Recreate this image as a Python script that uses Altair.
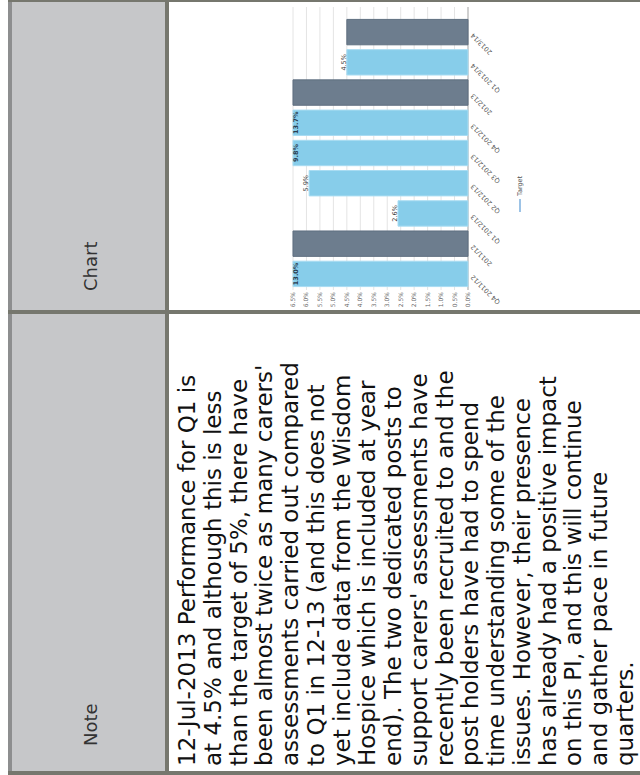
import altair as alt
import pandas as pd

# ---------------- data ----------------
categories = ["2013/14", "Q1 2013/14", "2012/13", "Q4 2012/13", "Q3 2012/13",
              "Q2 2012/13", "Q1 2012/13", "2011/12", "Q4 2011/12"]
values = [4.5, 4.5, 13.7, 13.7, 9.8, 5.9, 2.6, 13.0, 13.0]
kinds = ["Annual", "Quarter", "Annual", "Quarter", "Quarter",
         "Quarter", "Quarter", "Annual", "Quarter"]
value_labels = ["", "4.5%", "", "13.7%", "9.8%", "5.9%", "2.6%", "", "13.0%"]
tick_values = [0.0, 0.5, 1.0, 1.5, 2.0, 2.5, 3.0, 3.5, 4.0, 4.5, 5.0, 5.5, 6.0, 6.5]
tick_labels = ["0.0%", "0.5%", "1.0%", "1.5%", "2.0%", "2.5%", "3.0%", "3.5%",
               "4.0%", "4.5%", "5.0%", "5.5%", "6.0%", "6.5%"]
legend_items = ["Target"]
header_labels = ["Chart", "Note"]
note_lines = [
    "12-Jul-2013 Performance for Q1 is",
    "at 4.5% and although this is less",
    "than the target of 5%, there have",
    "been almost twice as many carers'",
    "assessments carried out compared",
    "to Q1 in 12-13 (and this does not",
    "yet include data from the Wisdom",
    "Hospice which is included at year",
    "end). The two dedicated posts to",
    "support carers' assessments have",
    "recently been recruited to and the",
    "post holders have had to spend",
    "time understanding some of the",
    "issues. However, their presence",
    "has already had a positive impact",
    "on this PI, and this will continue",
    "and gather pace in future",
    "quarters.",
]

bars_df = pd.DataFrame({"category": categories, "value": values,
                        "kind": kinds, "label": value_labels})
ticks_df = pd.DataFrame({"tick": tick_values, "tick_label": tick_labels})
note_df = pd.DataFrame({"line": list(range(len(note_lines))), "text": note_lines})
legend_df = pd.DataFrame({"name": legend_items})
header_df = pd.DataFrame({"name": header_labels, "row": [0, 1]})

# ---------------- layout ----------------
W, H = 640, 775
BORDER = "#76776e"
HEADER_BG = "#c6c7c9"
DIV_Y = 312  # horizontal divider between rows

X0, X1 = 468, 293           # 0% .. 6.5%
Y_TOP, Y_BOT = 17, 289       # band range of the categories
GRID_TOP, GRID_BOT = 7, 290

xs = alt.Scale(domain=[0, 6.5], range=[X0, X1], clamp=True)
ys = alt.Scale(domain=categories, range=[Y_TOP, Y_BOT], paddingInner=0.16, paddingOuter=0.08)


def rect(x, x2, y, y2, color):
    return alt.Chart(legend_df).mark_rect(color=color).encode(
        x=alt.value(x), x2=alt.value(x2), y=alt.value(y), y2=alt.value(y2))


# table
table = [
    rect(0, W, 0, H, "white"),
    rect(12, 165, 2, H - 4, HEADER_BG),
    rect(8, 12, 0, H, "#8d8e8f"),
    rect(8, W, 0, 2, BORDER),
    rect(165, 169, 0, H, BORDER),
    rect(8, W, DIV_Y - 2, DIV_Y + 2, BORDER),
    rect(8, W, H - 4, H, BORDER),
]

header_text = alt.Chart(header_df).mark_text(
    angle=270, align="left", baseline="middle", font="DejaVu Sans",
    fontSize=18, color="#333333"
).encode(
    x=alt.value(92),
    y=alt.Y("row:Q", scale=alt.Scale(domain=[0, 1], range=[DIV_Y - 21, H - 29]), axis=None),
    text="name:N",
)

note_text = alt.Chart(note_df).mark_text(
    angle=270, align="left", baseline="middle", font="DejaVu Sans",
    fontSize=23, color="#111111"
).encode(
    x=alt.X("line:Q", scale=alt.Scale(domain=[0, 17], range=[188, 626]), axis=None),
    y=alt.value(H - 9),
    text="text:N",
)

# chart
grid = alt.Chart(ticks_df).mark_rule(color="#e4e4e4", strokeWidth=1).encode(
    x=alt.X("tick:Q", scale=xs, axis=None),
    y=alt.value(GRID_TOP), y2=alt.value(GRID_BOT),
)
baseline_rule = alt.Chart(ticks_df).transform_filter("datum.tick == 0").mark_rule(
    color="#d0d0d0", strokeWidth=2
).encode(x=alt.X("tick:Q", scale=xs, axis=None),
         y=alt.value(GRID_TOP), y2=alt.value(GRID_BOT))

tick_text = alt.Chart(ticks_df).mark_text(
    angle=270, align="right", baseline="middle", font="DejaVu Sans",
    fontSize=6, color="#666666"
).encode(
    x=alt.X("tick:Q", scale=xs, axis=None),
    y=alt.value(GRID_BOT + 2),
    text="tick_label:N",
)

bars = alt.Chart(bars_df).mark_bar(strokeWidth=1).encode(
    x=alt.X("value:Q", scale=xs, axis=None),
    x2=alt.datum(0),
    y=alt.Y("category:N", scale=ys, axis=None),
    color=alt.Color("kind:N", scale=alt.Scale(domain=["Annual", "Quarter"],
                                               range=["#6d7d8e", "#87cdea"]), legend=None),
    stroke=alt.Stroke("kind:N", scale=alt.Scale(domain=["Annual", "Quarter"],
                                                 range=["#5f6f80", "#a9dcf2"]), legend=None),
)

labels_out = alt.Chart(bars_df).transform_filter(
    "datum.label != '' && datum.value <= 6.5").mark_text(
    angle=270, align="center", baseline="bottom", font="DejaVu Sans",
    fontSize=6.5, color="#333333"
).encode(
    x=alt.X("value:Q", scale=xs, axis=None),
    y=alt.Y("category:N", scale=ys, axis=None, bandPosition=0.5),
    text="label:N",
)
labels_in = alt.Chart(bars_df).transform_filter(
    "datum.label != '' && datum.value > 6.5").mark_text(
    angle=270, align="center", baseline="top", font="DejaVu Sans",
    fontSize=6.5, fontWeight="bold", color="#2c3e50"
).encode(
    x=alt.X("value:Q", scale=xs, axis=None),
    y=alt.Y("category:N", scale=ys, axis=None, bandPosition=0.5),
    text="label:N",
)

cat_text = alt.Chart(bars_df).mark_text(
    angle=225, align="right", baseline="middle", font="DejaVu Sans",
    fontSize=6.5, color="#555555", dy=-3
).encode(
    x=alt.value(X0 + 6),
    y=alt.Y("category:N", scale=ys, axis=None, bandPosition=0.5),
    text="category:N",
)

legend_line = alt.Chart(legend_df).mark_rule(color="#5b9bd5", strokeWidth=1.2).encode(
    x=alt.value(520), y=alt.value(199), y2=alt.value(212))
legend_text = alt.Chart(legend_df).mark_text(
    angle=270, align="left", baseline="middle", font="DejaVu Sans",
    fontSize=6.5, color="#555555"
).encode(x=alt.value(520), y=alt.value(196), text="name:N")

chart = alt.layer(
    *table, header_text, note_text,
    grid, baseline_rule, bars, labels_out, labels_in, tick_text, cat_text,
    legend_line, legend_text,
).resolve_scale(
    x="independent", y="independent", color="independent", stroke="independent"
).properties(
    width=W, height=H, autosize=alt.AutoSizeParams(type="none"), padding=0,
).configure_view(stroke=None)

chart.save("out.html", embed_options={"renderer": "svg", "actions": False})
